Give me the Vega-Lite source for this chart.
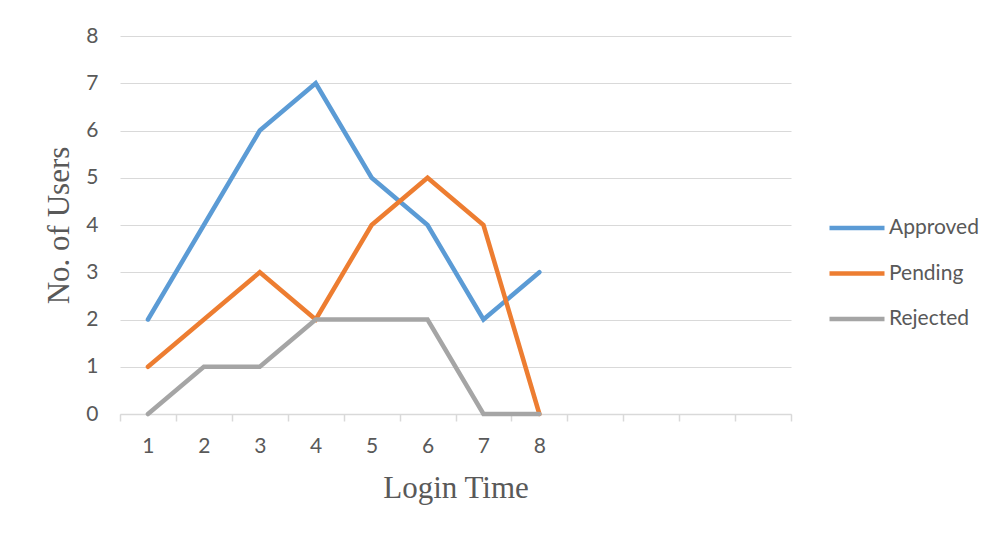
{
  "$schema": "https://vega.github.io/schema/vega-lite/v6.json",
  "autosize": "none",
  "width": 671,
  "height": 378,
  "padding": {"left": 120, "top": 36, "right": 212, "bottom": 121},
  "background": "white",
  "config": {
    "view": {"stroke": null},
    "font": "Lato"
  },
  "data": {
    "values": [
      {"t": "1", "status": "Approved", "users": 2},
      {"t": "2", "status": "Approved", "users": 4},
      {"t": "3", "status": "Approved", "users": 6},
      {"t": "4", "status": "Approved", "users": 7},
      {"t": "5", "status": "Approved", "users": 5},
      {"t": "6", "status": "Approved", "users": 4},
      {"t": "7", "status": "Approved", "users": 2},
      {"t": "8", "status": "Approved", "users": 3},
      {"t": "1", "status": "Pending", "users": 1},
      {"t": "2", "status": "Pending", "users": 2},
      {"t": "3", "status": "Pending", "users": 3},
      {"t": "4", "status": "Pending", "users": 2},
      {"t": "5", "status": "Pending", "users": 4},
      {"t": "6", "status": "Pending", "users": 5},
      {"t": "7", "status": "Pending", "users": 4},
      {"t": "8", "status": "Pending", "users": 0},
      {"t": "1", "status": "Rejected", "users": 0},
      {"t": "2", "status": "Rejected", "users": 1},
      {"t": "3", "status": "Rejected", "users": 1},
      {"t": "4", "status": "Rejected", "users": 2},
      {"t": "5", "status": "Rejected", "users": 2},
      {"t": "6", "status": "Rejected", "users": 2},
      {"t": "7", "status": "Rejected", "users": 0},
      {"t": "8", "status": "Rejected", "users": 0}
    ]
  },
  "mark": {"type": "line", "strokeWidth": 4.5, "strokeCap": "round", "strokeJoin": "miter"},
  "encoding": {
    "x": {
      "field": "t",
      "type": "ordinal",
      "sort": null,
      "scale": {"type": "band", "domain": ["1","2","3","4","5","6","7","8","9","10","11","12"], "paddingInner": 0, "paddingOuter": 0},
      "axis": {
        "title": "Login Time",
        "titleFont": "Liberation Serif",
        "titleFontSize": 31,
        "titleFontWeight": "normal",
        "titleColor": "#595959",
        "titlePadding": 17,
        "labelExpr": "toNumber(datum.value) <= 8 ? datum.label : ''",
        "labelAngle": 0,
        "labelFontSize": 21,
        "labelColor": "#595959",
        "labelPadding": 14,
        "tickBand": "extent",
        "tickSize": 7,
        "tickColor": "#D9D9D9",
        "tickWidth": 1.5,
        "domainColor": "#D9D9D9",
        "domainWidth": 1.5,
        "grid": false
      }
    },
    "y": {
      "field": "users",
      "type": "quantitative",
      "scale": {"domain": [0, 8], "nice": false},
      "axis": {
        "title": "No. of Users",
        "titleFont": "Liberation Serif",
        "titleFontSize": 31,
        "titleFontWeight": "normal",
        "titleColor": "#595959",
        "titlePadding": 10,
        "values": [0,1,2,3,4,5,6,7,8],
        "labelFontSize": 21,
        "labelColor": "#595959",
        "labelPadding": 22,
        "ticks": false,
        "domain": false,
        "grid": true,
        "gridColor": "#D9D9D9",
        "gridWidth": 1.2
      }
    },
    "color": {
      "field": "status",
      "type": "nominal",
      "scale": {"domain": ["Approved", "Pending", "Rejected"], "range": ["#5B9BD5", "#ED7D31", "#A5A5A5"]},
      "legend": {
        "title": null,
        "orient": "none",
        "legendX": 707,
        "legendY": 181,
        "symbolType": "stroke",
        "symbolSize": 3025,
        "symbolStrokeWidth": 4.5,
        "labelFontSize": 21,
        "labelColor": "#595959",
        "labelOffset": 2,
        "clipHeight": 22,
        "rowPadding": 23.5
      }
    }
  }
}
